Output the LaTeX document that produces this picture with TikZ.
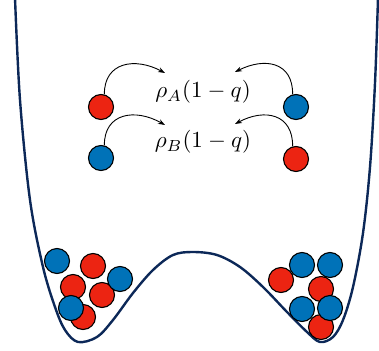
\documentclass[tikz,border=0pt]{standalone}
\usetikzlibrary{arrows.meta}
\definecolor{pred}{RGB}{236,36,18}
\definecolor{pblue}{RGB}{0,114,184}
\definecolor{navy}{RGB}{12,40,88}
\tikzset{
  ball/.style={circle,draw=black,line width=1.1pt,minimum size=25pt,inner sep=0pt},
  rball/.style={ball,fill=pred},
  bball/.style={ball,fill=pblue},
  hop/.style={-{Stealth[length=7pt,width=5pt]},line width=0.9pt},
  well/.style={draw=navy,line width=2.4pt,line cap=round}
}
\begin{document}
\begin{tikzpicture}[x=1pt,y=-1pt]
\useasboundingbox (0,0) rectangle (379,350);
\draw[well] plot[smooth,tension=0.55] coordinates {
 (15,-2) (20,100) (30,200) (43,267) (55,307) (65,330) (78,342) (97,337)
 (113,320) (133,293) (153,270) (173,255) (193,252) (217,255) (240,267)
 (263,287) (287,312) (307,332) (320,342) (333,337) (343,320) (353,287)
 (363,233) (370,167) (375,83) (378,-2)};
% top balls
\node[rball] (c1) at (101,107) {};
\node[bball] (c2) at (101,158) {};
\node[bball] (c3) at (296,107) {};
\node[rball] (c4) at (296,159) {};
\node[scale=2.3] (tA) at (203,92) {$\rho_A(1-q)$};
\node[scale=2.3] (tB) at (203,142) {$\rho_B(1-q)$};
\coordinate (a1) at (165,73);
\coordinate (a2) at (235,72);
\coordinate (a3) at (165,125);
\coordinate (a4) at (235,124);
\draw[hop] (c1.75) .. controls (104,62) and (135,57) .. (a1);
\draw[hop] (c3.105) .. controls (293,62) and (265,57) .. (a2);
\draw[hop] (c2.75) .. controls (104,113) and (135,108) .. (a3);
\draw[hop] (c4.105) .. controls (293,114) and (265,108) .. (a4);
% left cluster
\node[rball] (l2) at (93,266) {};
\node[rball] (l4) at (73,287) {};
\node[rball] (l5) at (102,295) {};
\node[rball] (l6) at (83,317) {};
\node[bball] (l1) at (57,261) {};
\node[bball] (l3) at (120,279) {};
\node[bball] (l7) at (71,308) {};
% right cluster
\node[rball] (r1) at (281,280) {};
\node[rball] (r4) at (321,289) {};
\node[rball] (r7) at (321,327) {};
\node[bball] (r2) at (302,265) {};
\node[bball] (r3) at (330,265) {};
\node[bball] (r5) at (302,309) {};
\node[bball] (r6) at (330,308) {};
\end{tikzpicture}
\end{document}
